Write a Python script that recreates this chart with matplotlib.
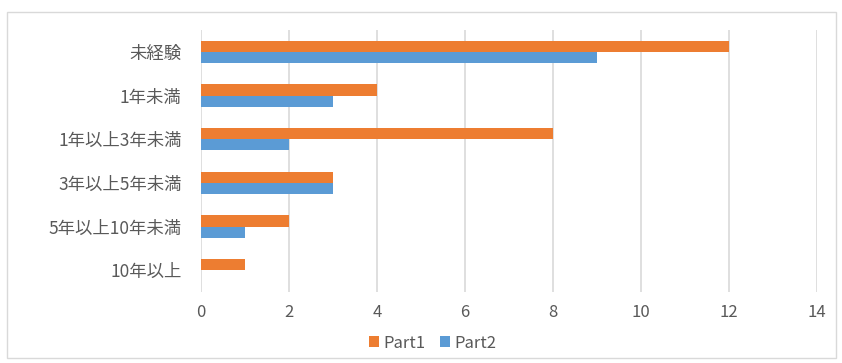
import matplotlib
matplotlib.use("Agg")
import matplotlib.pyplot as plt
import numpy as np
from matplotlib.patches import Rectangle

plt.rcParams['font.family'] = ['Noto Sans CJK JP', 'DejaVu Sans']

# experience buckets, top to bottom
categories = ['未経験', '1年未満', '1年以上3年未満', '3年以上5年未満', '5年以上10年未満', '10年以上']
part1 = [12, 4, 8, 3, 2, 1]
part2 = [9, 3, 2, 3, 1, 0]
xticks = [0, 2, 4, 6, 8, 10, 12, 14]

orange = '#ED7D31'
blue = '#5B9BD5'
text_col = '#595959'

fig = plt.figure(figsize=(8.42, 3.63), dpi=100)
ax = fig.add_axes([0.2387, 0.1956, 0.7316, 0.7217])

y = np.arange(len(categories))
h = 0.255
ax.barh(y - h / 2, part1, height=h, color=orange, label='Part1', zorder=3)
ax.barh(y + h / 2, part2, height=h, color=blue, label='Part2', zorder=3)

ax.set_ylim(len(categories) - 0.5, -0.5)
ax.set_xlim(0, 14)
ax.set_yticks(y)
ax.set_yticklabels(categories, fontsize=12.5, color=text_col)
ax.set_xticks(xticks)
ax.set_xticklabels([str(t) for t in xticks], fontsize=12, color=text_col)
ax.tick_params(axis='both', length=0)
ax.tick_params(axis='x', pad=9)
ax.tick_params(axis='y', pad=14)
ax.grid(axis='x', color='#D9D9D9', linewidth=1.2, zorder=0)
for s in ax.spines.values():
    s.set_visible(False)

fig.legend(loc='center', bbox_to_anchor=(0.514, 0.055), ncol=2, frameon=False,
           fontsize=12, handlelength=0.6, handleheight=0.6, handletextpad=0.25,
           columnspacing=0.9, labelcolor=text_col)

# outer chart border
fig.patches.append(Rectangle((0.008, 0.014), 0.985, 0.953, transform=fig.transFigure,
                             fill=False, edgecolor='#D9D9D9', linewidth=1))

fig.savefig('out.png', dpi=100)
